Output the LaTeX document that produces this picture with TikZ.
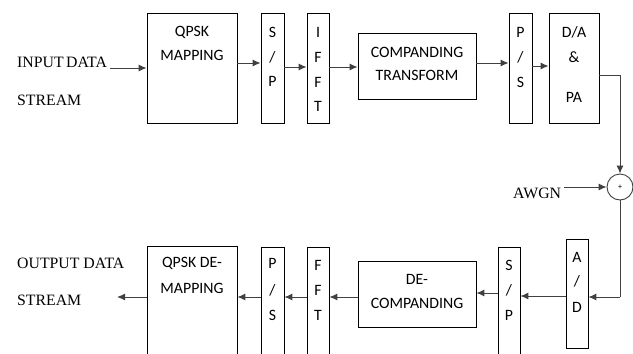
\documentclass[tikz,border=0pt]{standalone}
\usepackage{fontspec}
\setmainfont{Liberation Serif}
\newfontfamily\boxfont{Carlito}
\usetikzlibrary{arrows.meta}
\tikzset{
  x=1pt, y=-1pt,
  blk/.style={draw=black, line width=0.9pt, inner sep=0pt, fill=none},
  btxt/.style={font=\boxfont\fontsize{15.8}{18}\selectfont, inner sep=0pt, text=black},
  ltxt/.style={font=\fontsize{15.8}{18}\selectfont, inner sep=0pt, anchor=west, text=black},
  conn/.style={draw=black!75, line width=1pt, -{Latex[length=8pt,width=7pt]}},
  wire/.style={draw=black!75, line width=1pt},
}
\begin{document}
\begin{tikzpicture}
\clip (0,0) rectangle (633,354);
\fill[white] (0,0) rectangle (633,354);
% top row boxes
\node[blk, minimum width=90pt, minimum height=110pt] (qpsk) at (192,68) {};
\node[blk, minimum width=23pt, minimum height=110pt] (sp1) at (272.5,68) {};
\node[blk, minimum width=22pt, minimum height=110pt] (ifft) at (318,68) {};
\node[blk, minimum width=118pt, minimum height=66pt] (comp) at (417,66) {};
\node[blk, minimum width=23pt, minimum height=110pt] (ps1) at (520.5,68) {};
\node[blk, minimum width=50pt, minimum height=110pt] (da) at (574,68) {};
\node[draw=black!75, line width=0.9pt, circle, minimum size=26pt, inner sep=0pt, font=\boxfont\fontsize{8}{9}\selectfont] (sum) at (620,187) {+};
% bottom row boxes
\node[blk, minimum width=22pt, minimum height=109pt] (ad) at (577,293.5) {};
\node[blk, minimum width=22pt, minimum height=113pt] (sp2) at (509,303.5) {};
\node[blk, minimum width=118pt, minimum height=66pt] (decomp) at (417,294) {};
\node[blk, minimum width=22pt, minimum height=113pt] (fft) at (318,303.5) {};
\node[blk, minimum width=23pt, minimum height=113pt] (ps2) at (272.5,303.5) {};
\node[blk, minimum width=90pt, minimum height=114pt] (qpsk2) at (192,303) {};
% texts top
\node[btxt] (t1a) at (192,32) {QPSK};
\node[btxt] (t1b) at (192,55) {MAPPING};
\node[btxt] (t2a) at (272.5,32) {S};
\node[btxt] (t2b) at (272.5,57) {/};
\node[btxt] (t2c) at (272.5,81) {P};
\node[btxt] (t3a) at (318,32) {I};
\node[btxt] (t3b) at (318,57) {F};
\node[btxt] (t3c) at (318,82) {F};
\node[btxt] (t3d) at (318,106) {T};
\node[btxt] (t4a) at (417,52) {COMPANDING};
\node[btxt] (t4b) at (417,75) {TRANSFORM};
\node[btxt] (t5a) at (520.5,32) {P};
\node[btxt] (t5b) at (520.5,57) {/};
\node[btxt] (t5c) at (520.5,82) {S};
\node[btxt] (t6a) at (574,32) {D/A};
\node[btxt] (t6b) at (574,57) {\&};
\node[btxt] (t6c) at (574,97) {PA};
% texts bottom
\node[btxt] (b1a) at (577,257) {A};
\node[btxt] (b1b) at (577,281) {/};
\node[btxt] (b1c) at (577,307) {D};
\node[btxt] (b2a) at (509,265) {S};
\node[btxt] (b2b) at (509,290) {/};
\node[btxt] (b2c) at (509,315) {P};
\node[btxt] (b3a) at (417,279) {DE-};
\node[btxt] (b3b) at (417,303) {COMPANDING};
\node[btxt] (b4a) at (318,265) {F};
\node[btxt] (b4b) at (318,290) {F};
\node[btxt] (b4c) at (318,315) {T};
\node[btxt] (b5a) at (272.5,263) {P};
\node[btxt] (b5b) at (272.5,290) {/};
\node[btxt] (b5c) at (272.5,315) {S};
\node[btxt] (b6a) at (192,263) {QPSK DE-};
\node[btxt] (b6b) at (192,288) {MAPPING};
% outer labels
\node[ltxt] (in1) at (17,62) {INPUT\kern-1.5pt\ DATA};
\node[ltxt] (in2) at (17,100) {STREAM};
\node[ltxt] (out1) at (17,263) {OUTPUT DATA};
\node[ltxt] (out2) at (17,300) {STREAM};
\node[ltxt] (awgn) at (513,193) {AWGN};
\coordinate (inS) at (110,68);
\coordinate (outE) at (117,297);
% connectors top
\draw[conn] (inS) -- (qpsk.west |- inS);
\draw[conn] (qpsk.east |- 0,63) -- (sp1.west |- 0,63);
\draw[conn] (sp1.east |- 0,67) -- (ifft.west |- 0,67);
\draw[conn] (ifft.east |- 0,67) -- (comp.west |- 0,67);
\draw[conn] (comp.east |- 0,63) -- (ps1.west |- 0,63);
\draw[conn] (ps1.east |- 0,66) -- (da.west |- 0,66);
\draw[wire] (da.east |- 0,75) -- (620,75);
\draw[conn] (620,75) -- (sum.north);
\draw[conn] (awgn.east |- sum.west) ++(3,0) -- (sum.west);
\draw[wire] (sum.south) -- (620,297);
\draw[conn] (620,297) -- (ad.east |- 0,297);
% connectors bottom
\draw[conn] (ad.west |- 0,296) -- (sp2.east |- 0,296);
\draw[conn] (sp2.west |- 0,293) -- (decomp.east |- 0,293);
\draw[conn] (decomp.west |- 0,297) -- (fft.east |- 0,297);
\draw[conn] (fft.west |- 0,297) -- (ps2.east |- 0,297);
\draw[conn] (ps2.west |- 0,297) -- (qpsk2.east |- 0,297);
\draw[conn] (qpsk2.west |- outE) -- (outE);
\end{tikzpicture}
\end{document}
